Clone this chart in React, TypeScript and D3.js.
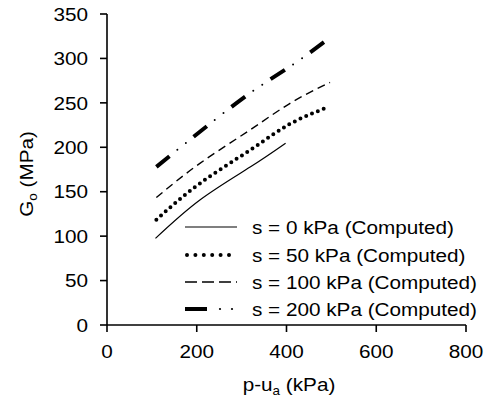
import React from "react";
import * as d3 from "d3";

// values
const xTicks = [0, 200, 400, 600, 800];
const yTicks = [0, 50, 100, 150, 200, 250, 300, 350];

const p0 = [108, 207, 319, 398];
const g0 = [97.5, 140.7, 177.7, 204.5];
const p50 = [110, 207, 319, 405, 489];
const g50 = [118.5, 159.4, 196.9, 225.5, 244.5];
const p100 = [110, 207, 319, 408, 497];
const g100 = [143.5, 181.9, 219.6, 249.5, 273];
const p200 = [110, 207, 319, 408, 490];
const g200 = [178, 217.5, 261, 291, 320.7];

const labels = [
  "s = 0 kPa (Computed)",
  "s = 50 kPa (Computed)",
  "s = 100 kPa (Computed)",
  "s = 200 kPa (Computed)",
];

const FONT = "'Liberation Sans', Arial, sans-serif";
const FS = 18.5;
const SX = 1.12;

export default function App() {
  const width = 499;
  const height = 403;
  const x = d3.scaleLinear([0, 800], [107, 466]);
  const y = d3.scaleLinear([0, 350], [325, 14]);

  const line = d3
    .line<[number, number]>()
    .x((d) => x(d[0]))
    .y((d) => y(d[1]))
    .curve(d3.curveNatural);

  const zip = (a: number[], b: number[]) => a.map((v, i) => [v, b[i]] as [number, number]);
  const d0 = line(zip(p0, g0)) || "";
  const d50 = line(zip(p50, g50)) || "";
  const d100 = line(zip(p100, g100)) || "";
  const d200 = line(zip(p200, g200)) || "";

  const txt = (
    tx: number,
    ty: number,
    s: React.ReactNode,
    anchor: "start" | "middle" | "end" = "start",
    key?: string | number
  ) => (
    <text
      key={key}
      transform={`translate(${tx},${ty}) scale(${SX},1)`}
      textAnchor={anchor}
      fontFamily={FONT}
      fontSize={FS}
      fill="#000"
    >
      {s}
    </text>
  );

  const legY = [227, 255, 282, 309];
  const lx0 = 185;
  const lx1 = 237;

  return (
    <svg
      width={width}
      height={height}
      viewBox={`0 0 ${width} ${height}`}
      style={{ position: "absolute", left: 0, top: 0, background: "#fff" }}
    >
      <rect width={width} height={height} fill="#fff" />

      {/* axes */}
      <g stroke="#000" strokeWidth={1.6} fill="none">
        <line x1={x(0)} x2={x(800)} y1={y(0)} y2={y(0)} />
        <line x1={x(0)} x2={x(0)} y1={y(0)} y2={y(350)} />
        {xTicks.map((t) => (
          <line key={"xt" + t} x1={x(t)} x2={x(t)} y1={y(0)} y2={y(0) + 7} />
        ))}
        {yTicks.map((t) => (
          <line key={"yt" + t} x1={x(0) - 7} x2={x(0)} y1={y(t)} y2={y(t)} />
        ))}
      </g>
      {xTicks.map((t) => txt(x(t), 358, String(t), "middle", "xl" + t))}
      {yTicks.map((t) => txt(88, y(t) + 6.7, String(t), "end", "yl" + t))}

      {/* axis titles */}
      {txt(
        289,
        391,
        <>
          p-u
          <tspan fontSize={12} dy={4}>a</tspan>
          <tspan dy={-4}> (kPa)</tspan>
        </>,
        "middle"
      )}
      <g transform="translate(33,174) rotate(-90)">
        {txt(
          0,
          0,
          <>
            G
            <tspan fontSize={12} dy={4}>o</tspan>
            <tspan dy={-4}> (MPa)</tspan>
          </>,
          "middle"
        )}
      </g>

      {/* series */}
      <path d={d0} fill="none" stroke="#000" strokeWidth={1.2} />
      <path
        d={d50}
        fill="none"
        stroke="#000"
        strokeWidth={4}
        strokeLinecap="round"
        strokeDasharray="0 6.3"
      />
      <path d={d100} fill="none" stroke="#000" strokeWidth={1.4} strokeDasharray="8 5" />
      <path d={d200} fill="none" stroke="#000" strokeWidth={4} strokeDasharray="17 31" />
      <path
        d={d200}
        fill="none"
        stroke="#000"
        strokeWidth={2}
        strokeLinecap="round"
        strokeDasharray="0 11 0 37"
        strokeDashoffset={21}
      />

      {/* legend */}
      <line x1={lx0} x2={lx1} y1={legY[0]} y2={legY[0]} stroke="#000" strokeWidth={1.2} />
      <line
        x1={lx0 + 2}
        x2={lx1}
        y1={legY[1]}
        y2={legY[1]}
        stroke="#000"
        strokeWidth={4}
        strokeLinecap="round"
        strokeDasharray="0 8.4"
      />
      <line
        x1={lx0}
        x2={lx1}
        y1={legY[2]}
        y2={legY[2]}
        stroke="#000"
        strokeWidth={1.4}
        strokeDasharray="12 5"
      />
      <line x1={lx0} x2={lx0 + 22} y1={legY[3]} y2={legY[3]} stroke="#000" strokeWidth={4} />
      <circle cx={220} cy={legY[3]} r={1.1} fill="#000" />
      <circle cx={232} cy={legY[3]} r={1.1} fill="#000" />
      {labels.map((l, i) => txt(252, legY[i] + 6.7, l, "start", "lg" + i))}
    </svg>
  );
}
